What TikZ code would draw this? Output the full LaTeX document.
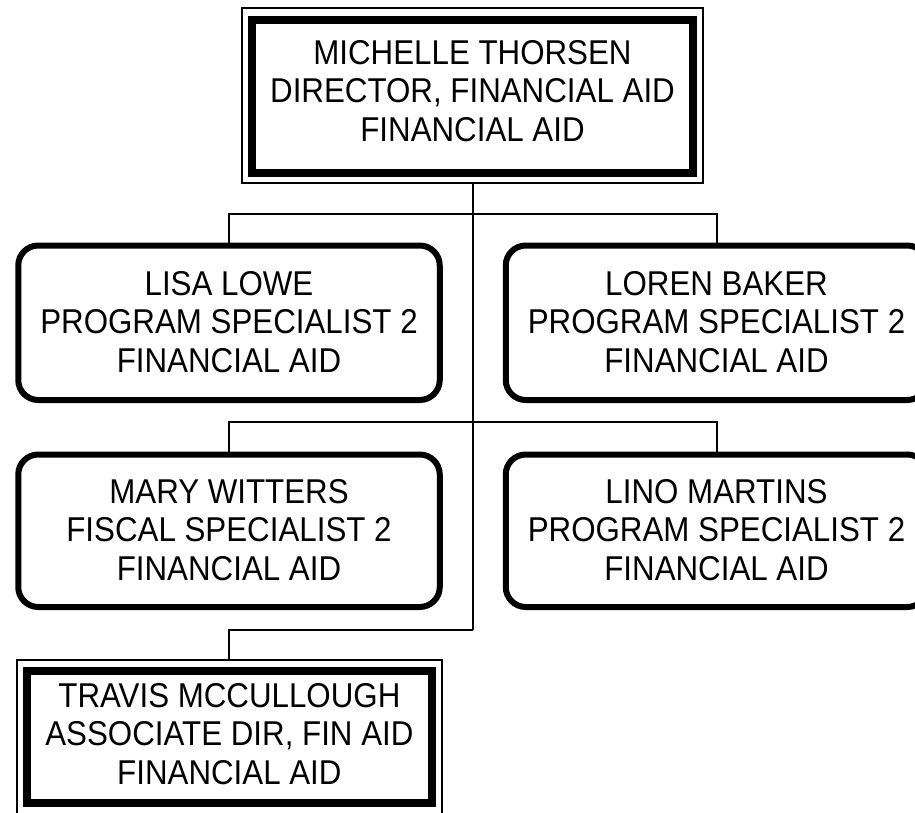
\documentclass[tikz,border=0pt]{standalone}
\usepackage{fontspec}
\setmainfont{Liberation Sans}
\newcommand\orgfont{\fontsize{31.3pt}{35pt}\selectfont}
\begin{document}
\begin{tikzpicture}[x=1pt,y=-1pt,
  thinframe/.style={draw,line width=2pt,inner sep=0pt},
  heavyframe/.style={draw,line width=8pt,inner sep=0pt},
  rbox/.style={draw,line width=6pt,rounded corners=20pt,minimum width=421.5pt,inner sep=0pt},
  txt/.style={align=center,font=\orgfont,inner sep=0pt,yscale=1.1,transform shape},
  conn/.style={line width=2pt}]
\useasboundingbox (0,0) rectangle (915,813);
\clip (0,0) rectangle (915,813);
\fill[white] (0,0) rectangle (915,813);

% top box
\node[thinframe,minimum width=460.5pt,minimum height=174.4pt] (topo) at (472.5,95.5) {};
\node[heavyframe,minimum width=441.3pt,minimum height=153pt] (topi) at (472.5,96.5) {};
\node[txt] (toptxt) at (472.5,91) {MICHELLE THORSEN\\DIRECTOR, FINANCIAL AID\\FINANCIAL AID};

% level boxes
\node[rbox,minimum height=154.5pt] (lisa) at (229,322.75) {};
\node[txt] (lisatxt) at (229,322) {LISA LOWE\\PROGRAM SPECIALIST 2\\FINANCIAL AID};
\node[rbox,minimum height=154.5pt] (loren) at (716.5,322.75) {};
\node[txt] (lorentxt) at (716.5,322) {LOREN BAKER\\PROGRAM SPECIALIST 2\\FINANCIAL AID};
\node[rbox,minimum height=152.5pt] (mary) at (229,530.75) {};
\node[txt] (marytxt) at (229,530) {MARY WITTERS\\FISCAL SPECIALIST 2\\FINANCIAL AID};
\node[rbox,minimum height=152.5pt] (lino) at (716.5,530.75) {};
\node[txt] (linotxt) at (716.5,530) {LINO MARTINS\\PROGRAM SPECIALIST 2\\FINANCIAL AID};

% bottom box
\node[thinframe,minimum width=425.8pt,minimum height=154pt] (travo) at (229.4,737) {};
\node[heavyframe,minimum width=404.5pt,minimum height=132pt] (travi) at (229.4,737) {};
\node[txt] (travtxt) at (229.4,734) {TRAVIS MCCULLOUGH\\ASSOCIATE DIR, FIN AID\\FINANCIAL AID};

% connectors
\coordinate (b1) at (472.5,213.5);
\coordinate (b2) at (472.5,421.5);
\coordinate (b3) at (472.5,630);
\draw[conn] (topo.south) -- (b3);
\draw[conn] (lisa.north) |- (b1) -| (loren.north);
\draw[conn] (mary.north) |- (b2) -| (lino.north);
\draw[conn] (travo.north) |- (b3);
\end{tikzpicture}
\end{document}
